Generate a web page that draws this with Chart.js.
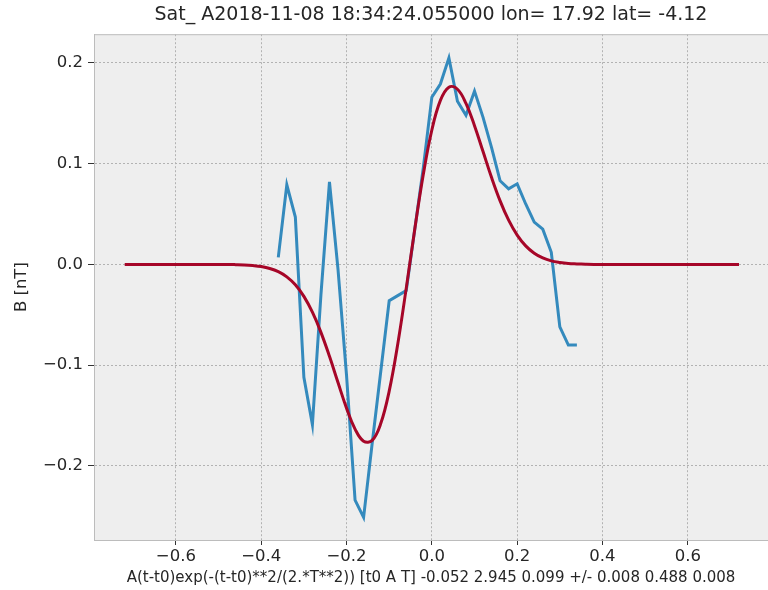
<!DOCTYPE html>
<html>
<head>
<meta charset="utf-8">
<script src="https://cdn.jsdelivr.net/npm/chart.js@4.4.1/dist/chart.umd.min.js"></script>
<style>
  html, body { margin: 0; padding: 0; background: #ffffff; }
  #wrap { width: 768px; height: 590px; }
</style>
</head>
<body>
<div id="wrap"><canvas id="fitChart" width="768" height="590"></canvas></div>
<script>
// measured field, time relative to the event
const tSamples = [-0.36, -0.34, -0.32, -0.30, -0.28, -0.26, -0.24, -0.22, -0.20, -0.18,
  -0.16, -0.14, -0.12, -0.10, -0.08, -0.06, -0.04, -0.02, 0.00, 0.02,
  0.04, 0.06, 0.08, 0.10, 0.12, 0.14, 0.16, 0.18, 0.20, 0.22,
  0.24, 0.26, 0.28, 0.30, 0.32, 0.34];
const bSamples = [0.007, 0.079, 0.047, -0.112, -0.159, -0.030, 0.082, -0.005, -0.110, -0.234,
  -0.251, -0.178, -0.107, -0.036, -0.031, -0.026, 0.035, 0.096, 0.166, 0.179,
  0.205, 0.162, 0.148, 0.172, 0.146, 0.116, 0.083, 0.075, 0.080, 0.060,
  0.042, 0.035, 0.012, -0.062, -0.080, -0.080];

// fitted wavelet A(t-t0)exp(-(t-t0)^2/(2T^2)), tabulated
const tFit = [-0.72, -0.70, -0.68, -0.66, -0.64, -0.62, -0.60, -0.58, -0.56, -0.54,
  -0.52, -0.50, -0.48, -0.46, -0.44, -0.42, -0.40, -0.38, -0.36, -0.34,
  -0.32, -0.30, -0.28, -0.26, -0.24, -0.22, -0.20, -0.18, -0.16, -0.14,
  -0.12, -0.10, -0.08, -0.06, -0.04, -0.02, 0.00, 0.02, 0.04, 0.06,
  0.08, 0.10, 0.12, 0.14, 0.16, 0.18, 0.20, 0.22, 0.24, 0.26,
  0.28, 0.30, 0.32, 0.34, 0.36, 0.38, 0.40, 0.42, 0.44, 0.46,
  0.48, 0.50, 0.52, 0.54, 0.56, 0.58, 0.60, 0.62, 0.64, 0.66,
  0.68, 0.70, 0.72];
const bFit = [0, 0, 0, 0, 0, 0, 0, 0, 0, 0,
  0, 0, 0, -0.0002, -0.0005, -0.0011, -0.0021, -0.0040, -0.0072, -0.0123,
  -0.0202, -0.0317, -0.0474, -0.0674, -0.0912, -0.1172, -0.1426, -0.1634, -0.1754, -0.1746,
  -0.1582, -0.1257, -0.0792, -0.0235, 0.0351, 0.0894, 0.1334, 0.1628, 0.1759, 0.1739,
  0.1598, 0.1377, 0.1120, 0.0862, 0.0631, 0.0439, 0.0291, 0.0184, 0.0111, 0.0064,
  0.0035, 0.0019, 0.0009, 0.0005, 0.0002, 0, 0, 0, 0, 0,
  0, 0, 0, 0, 0, 0, 0, 0, 0, 0,
  0, 0, 0];

const xTicks = [-0.6, -0.4, -0.2, 0.0, 0.2, 0.4, 0.6];
const yTicks = [-0.2, -0.1, 0.0, 0.1, 0.2];

const titleText = "Sat_ A2018-11-08 18:34:24.055000 lon= 17.92 lat= -4.12";
const xLabel = "A(t-t0)exp(-(t-t0)**2/(2.*T**2)) [t0 A T] -0.052 2.945 0.099 +/- 0.008 0.488 0.008";
const yLabel = "B [nT]";

const FONT = "'DejaVu Sans', sans-serif";
const TEXT = "#262626";

function fmt(v) {
  const s = Math.abs(v).toFixed(1);
  return v < -1e-9 ? "\u2212" + s : s;
}

// grey axes face plus the frame on every side
const plotFrame = {
  id: "plotFrame",
  beforeDraw(chart) {
    const { ctx, chartArea: a } = chart;
    ctx.save();
    ctx.fillStyle = "#eeeeee";
    ctx.fillRect(a.left, a.top, a.right - a.left, a.bottom - a.top);
    ctx.restore();
  },
  afterDraw(chart) {
    const { ctx, chartArea: a } = chart;
    ctx.save();
    ctx.strokeStyle = "#bcbcbc";
    ctx.lineWidth = 1;
    ctx.strokeRect(a.left + 0.5, a.top + 0.5, a.right - a.left, a.bottom - a.top);
    ctx.restore();
  },
};

const ctx = document.getElementById("fitChart").getContext("2d");

new Chart(ctx, {
  type: "line",
  data: {
    datasets: [
      {
        label: "fit",
        data: tFit.map((t, i) => ({ x: t, y: bFit[i] })),
        borderColor: "#A60628",
        borderWidth: 3,
        pointRadius: 0,
        tension: 0.4,
        fill: false,
        order: 0,
      },
      {
        label: "B",
        data: tSamples.map((t, i) => ({ x: t, y: bSamples[i] })),
        borderColor: "#348ABD",
        borderWidth: 3,
        pointRadius: 0,
        tension: 0,
        fill: false,
        order: 1,
      },
    ],
  },
  options: {
    responsive: false,
    animation: false,
    layout: { padding: 0 },
    plugins: {
      legend: { display: false },
      tooltip: { enabled: false },
      title: {
        display: true,
        text: titleText,
        fullSize: false,
        color: TEXT,
        font: { family: FONT, size: 19, weight: "normal" },
        padding: { top: 4, bottom: 7.4 },
      },
    },
    scales: {
      x: {
        type: "linear",
        min: -0.792,
        max: 0.788,
        afterBuildTicks: (scale) => {
          scale.ticks = xTicks.map((v) => ({ value: v }));
        },
        afterFit: (scale) => {
          scale.height = 50;
        },
        ticks: {
          color: TEXT,
          font: { family: FONT, size: 16.5 },
          padding: 2,
          maxRotation: 0,
          callback: (v) => fmt(v),
        },
        grid: {
          color: "#b2b2b2",
          lineWidth: 1,
          tickLength: 5,
          tickColor: "#333333",
          tickBorderDash: [],
        },
        border: { display: true, color: "#bcbcbc", width: 1, dash: [2, 2] },
        title: {
          display: true,
          text: xLabel,
          color: TEXT,
          font: { family: FONT, size: 15 },
          padding: { top: 0, bottom: 3 },
        },
      },
      y: {
        type: "linear",
        min: -0.2735,
        max: 0.2285,
        afterBuildTicks: (scale) => {
          scale.ticks = yTicks.map((v) => ({ value: v }));
        },
        afterFit: (scale) => {
          scale.width = 94;
        },
        ticks: {
          color: TEXT,
          font: { family: FONT, size: 16.5 },
          padding: 5,
          callback: (v) => fmt(v),
        },
        grid: {
          color: "#b2b2b2",
          lineWidth: 1,
          tickLength: 6,
          tickColor: "#333333",
          tickBorderDash: [],
        },
        border: { display: true, color: "#bcbcbc", width: 1, dash: [2, 2] },
        title: {
          display: true,
          text: yLabel,
          color: TEXT,
          font: { family: FONT, size: 16.5 },
          padding: { top: 12, bottom: 0 },
        },
      },
    },
  },
  plugins: [plotFrame],
});
</script>
</body>
</html>
